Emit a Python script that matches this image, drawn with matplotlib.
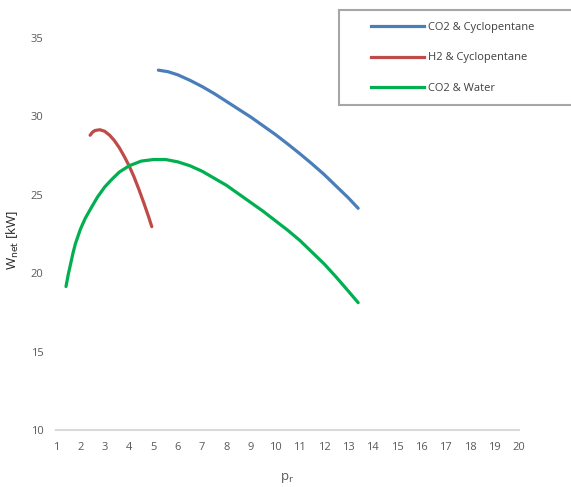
import matplotlib.pyplot as plt
from matplotlib.lines import Line2D
from matplotlib.patches import Rectangle

plt.rcParams['font.family'] = ['Open Sans', 'DejaVu Sans']

# pressure ratio p_r vs net work [kW]
pr_co2_cp = [5.2, 5.6, 6.0, 6.5, 7.0, 7.5, 8.0, 8.5, 9.0, 9.5, 10.0, 10.5, 11.0, 11.5, 12.0, 12.5, 13.0, 13.4]
w_co2_cp = [32.95, 32.85, 32.65, 32.3, 31.9, 31.45, 30.95, 30.45, 29.95, 29.4, 28.85, 28.25, 27.63, 26.98, 26.3, 25.55, 24.8, 24.14]

pr_h2_cp = [2.4, 2.5, 2.6, 2.8, 3.0, 3.2, 3.4, 3.6, 3.8, 4.0, 4.2, 4.4, 4.6, 4.8, 4.93]
w_h2_cp = [28.8, 29.0, 29.1, 29.15, 29.05, 28.8, 28.45, 28.0, 27.45, 26.85, 26.15, 25.35, 24.5, 23.6, 22.97]

pr_co2_w = [1.41, 1.5, 1.6, 1.7, 1.8, 2.0, 2.2, 2.4, 2.7, 3.0, 3.3, 3.6, 4.0, 4.5, 5.0, 5.5, 6.0, 6.5, 7.0, 7.5,
            8.0, 8.5, 9.0, 9.5, 10.0, 10.5, 11.0, 11.5, 12.0, 12.5, 13.0, 13.4]
w_co2_w = [19.15, 19.9, 20.6, 21.3, 21.9, 22.8, 23.5, 24.05, 24.85, 25.5, 26.0, 26.45, 26.85, 27.15, 27.25, 27.25,
           27.1, 26.85, 26.5, 26.05, 25.6, 25.05, 24.5, 23.95, 23.35, 22.75, 22.1, 21.35, 20.6, 19.75, 18.85, 18.12]

series = [
    ("CO2 & Cyclopentane", pr_co2_cp, w_co2_cp, "#4A7EBB"),
    ("H2 & Cyclopentane", pr_h2_cp, w_h2_cp, "#BE4B48"),
    ("CO2 & Water", pr_co2_w, w_co2_w, "#00B050"),
]

fig = plt.figure(figsize=(5.71, 4.87), dpi=100)
ax = fig.add_axes([56/571, 1 - 430/487, 463/571, 392/487])

for name, x, y, c in series:
    ax.plot(x, y, color=c, lw=2.3, solid_capstyle='round', solid_joinstyle='round')

ax.set_xlim(1, 20)
ax.set_ylim(10, 35)
ax.set_xticks(range(1, 21))
ax.set_yticks(range(10, 36, 5))
ax.tick_params(length=0, labelsize=8, labelcolor="#595959", pad=9)
for s in ['top', 'right', 'left']:
    ax.spines[s].set_visible(False)
ax.spines['bottom'].set_color("#D9D9D9")
ax.spines['bottom'].set_linewidth(1.5)

fig.text(287/571, 1 - 478/487, r"p$_\mathrm{r}$", ha='center', va='center', fontsize=9.5, color="#595959")
fig.text(13/571, 1 - 240/487, r"W$_\mathrm{net}$ [kW]", ha='center', va='center', rotation=90,
         fontsize=9.5, color="#262626")

# legend box
fig.patches.append(Rectangle((339/571, 1 - 105/487), 234/571, 95/487, transform=fig.transFigure,
                             facecolor='white', edgecolor='#A6A6A6', lw=1.5))
handles = [Line2D([], [], color=c, lw=2.3) for _, _, _, c in series]
fig.legend(handles, [s[0] for s in series], loc='upper left', bbox_to_anchor=(371/571, 1 - 22/487),
           frameon=False, fontsize=8, labelcolor="#404040", handlelength=4.8, handletextpad=0.3,
           labelspacing=1.75, borderaxespad=0, borderpad=0)

fig.savefig("out.png", dpi=100)
